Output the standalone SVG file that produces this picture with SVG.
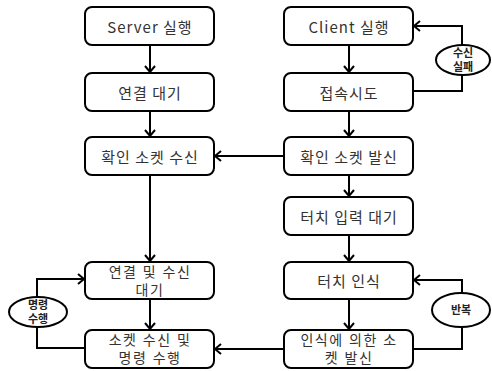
<svg xmlns="http://www.w3.org/2000/svg" width="492" height="371" viewBox="0 0 492 371">
<defs>
<marker id="arr" markerUnits="userSpaceOnUse" markerWidth="12" markerHeight="12" refX="10" refY="6" orient="auto">
<path d="M4,1 L10,6 L4,11" fill="none" stroke="#000" stroke-width="2"/>
</marker>
<style>
.box{fill:#fff;stroke:#000;stroke-width:2}
.t{font-family:"Noto Sans CJK KR","Noto Sans",sans-serif;font-size:15px;letter-spacing:1px;fill:#333;text-anchor:middle;dominant-baseline:central}
.t2{font-family:"Liberation Sans","Noto Sans CJK KR",sans-serif;font-size:14px;letter-spacing:1.5px;fill:#333;text-anchor:middle;dominant-baseline:central}
.s{font-family:"Liberation Sans","Noto Sans CJK KR",sans-serif;font-size:11px;font-weight:bold;fill:#222;text-anchor:middle;dominant-baseline:central}
.c{fill:none;stroke:#000;stroke-width:2;marker-end:url(#arr)}
.ell{fill:#fff;stroke:#000;stroke-width:2}
</style>
</defs>
<rect width="492" height="371" fill="#fff"/>
<g id="connectors">
<line class="c" x1="150" y1="46" x2="150" y2="72"/>
<line class="c" x1="150" y1="112" x2="150" y2="136"/>
<line class="c" x1="150" y1="176" x2="150" y2="261"/>
<line class="c" x1="150" y1="300" x2="150" y2="329"/>
<line class="c" x1="349" y1="46" x2="349" y2="72"/>
<line class="c" x1="349" y1="112" x2="349" y2="136"/>
<line class="c" x1="349" y1="176" x2="349" y2="196"/>
<line class="c" x1="349" y1="236" x2="349" y2="261"/>
<line class="c" x1="349" y1="300" x2="349" y2="329"/>
<line class="c" x1="284" y1="156" x2="215" y2="156"/>
<line class="c" x1="284" y1="349" x2="215" y2="349"/>
<polyline class="c" points="414,91 462,91 462,26 414,26"/>
<polyline class="c" points="414,349 462,349 462,280 414,280"/>
<polyline class="c" points="85,348 37,348 37,279 84,279"/>
</g>
<g id="n_server"><rect class="box" x="85" y="7" width="129" height="38" rx="7"/><text class="t" x="150" y="26">Server 실행</text></g>
<g id="n_wait"><rect class="box" x="85" y="73" width="129" height="38" rx="7"/><text class="t" x="150" y="92">연결 대기</text></g>
<g id="n_recv"><rect class="box" x="85" y="137" width="129" height="38" rx="7"/><text class="t" x="150" y="156">확인 소켓 수신</text></g>
<g id="n_connwait"><rect class="box" x="85" y="262" width="129" height="37" rx="7"/><text class="t2" x="150" y="272">연결 및 수신</text><text class="t2" x="150" y="290">대기</text></g>
<g id="n_exec"><rect class="box" x="85" y="330" width="129" height="38" rx="7"/><text class="t2" x="150" y="340">소켓 수신 및</text><text class="t2" x="150" y="358">명령 수행</text></g>
<g id="n_client"><rect class="box" x="284" y="7" width="129" height="38" rx="7"/><text class="t" x="349" y="26">Client 실행</text></g>
<g id="n_try"><rect class="box" x="284" y="73" width="129" height="38" rx="7"/><text class="t" x="349" y="92">접속시도</text></g>
<g id="n_send"><rect class="box" x="284" y="137" width="129" height="38" rx="7"/><text class="t" x="349" y="156">확인 소켓 발신</text></g>
<g id="n_touchwait"><rect class="box" x="284" y="197" width="129" height="38" rx="7"/><text class="t" x="349" y="216">터치 입력 대기</text></g>
<g id="n_touch"><rect class="box" x="284" y="262" width="129" height="37" rx="7"/><text class="t" x="349" y="280">터치 인식</text></g>
<g id="n_touchsend"><rect class="box" x="284" y="330" width="129" height="38" rx="7"/><text class="t2" x="349" y="340">인식에 의한 소</text><text class="t2" x="349" y="358">켓 발신</text></g>
<g id="e_fail"><ellipse class="ell" cx="463" cy="60" rx="27" ry="15"/><text class="s" x="463" y="53">수신</text><text class="s" x="463" y="67">실패</text></g>
<g id="e_repeat"><ellipse class="ell" cx="461" cy="310" rx="29" ry="17"/><text class="s" x="461" y="310">반복</text></g>
<g id="e_cmd"><ellipse class="ell" cx="38" cy="312" rx="29" ry="15"/><text class="s" x="38" y="305">명령</text><text class="s" x="38" y="319">수행</text></g>
</svg>
